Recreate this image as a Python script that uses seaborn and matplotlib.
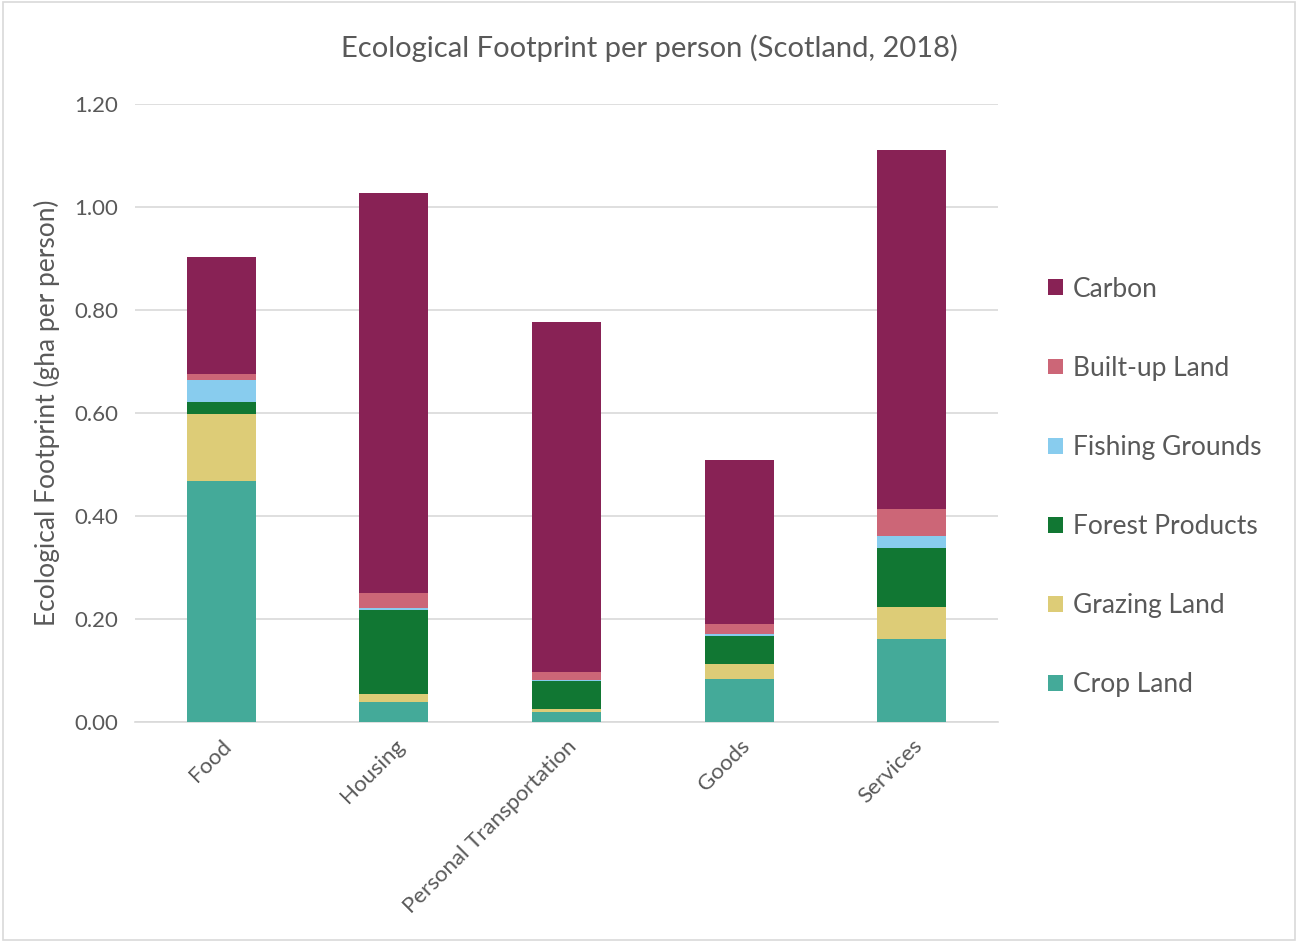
import matplotlib
matplotlib.use("Agg")
import matplotlib.pyplot as plt
from matplotlib.patches import Patch, Rectangle
import seaborn as sns
import pandas as pd
import numpy as np

categories = ["Food", "Housing", "Personal Transportation", "Goods", "Services"]
crop_land = [0.467, 0.039, 0.019, 0.083, 0.162]
grazing_land = [0.131, 0.016, 0.007, 0.029, 0.062]
forest_products = [0.024, 0.162, 0.054, 0.055, 0.113]
fishing_grounds = [0.043, 0.004, 0.002, 0.004, 0.025]
built_up_land = [0.011, 0.030, 0.016, 0.019, 0.051]
carbon = [0.227, 0.776, 0.678, 0.318, 0.697]

series_names = ["Crop Land", "Grazing Land", "Forest Products", "Fishing Grounds", "Built-up Land", "Carbon"]
series_values = [crop_land, grazing_land, forest_products, fishing_grounds, built_up_land, carbon]
colors = ["#44AA99", "#DDCC77", "#117733", "#88CCEE", "#CC6677", "#882255"]
yticks = [0.0, 0.2, 0.4, 0.6, 0.8, 1.0, 1.2]

sns.set_theme(style="white")
plt.rcParams["font.family"] = ["Lato", "DejaVu Sans"]
text_color = "#595959"

fig = plt.figure(figsize=(12.98, 9.42), dpi=100)
ax = fig.add_axes([135/1298, 1-722/942, (998-135)/1298, (722-104)/942])

df = pd.DataFrame(np.array(series_values).T, columns=series_names)
df["Category"] = categories
cum = df[series_names].cumsum(axis=1)

# draw from the top layer down so lower layers overlay
for name, col in reversed(list(zip(series_names, colors))):
    sns.barplot(x=categories, y=cum[name].values, color=col, width=0.4,
                saturation=1, ax=ax, edgecolor="none", linewidth=0, zorder=3)

ax.set_ylim(0, 1.2)
ax.set_xlim(-0.5, 4.5)
ax.set_yticks(yticks)
ax.set_yticklabels([f"{v:.2f}" for v in yticks], fontsize=16, color=text_color)
ax.yaxis.grid(True, color="#D9D9D9", linewidth=1.2, zorder=0)
ax.set_axisbelow(True)
for s in ["top", "right", "left"]:
    ax.spines[s].set_visible(False)
ax.spines["bottom"].set_color("#D9D9D9")
ax.spines["bottom"].set_linewidth(1.2)
ax.tick_params(axis="y", length=0, pad=12)
ax.tick_params(axis="x", length=0, pad=10)
ax.set_xticks(range(len(categories)))
ax.set_xticklabels(categories, rotation=45, ha="right", rotation_mode="anchor",
                   fontsize=16, color=text_color)
ax.set_ylabel("Ecological Footprint (gha per person)", fontsize=19, color=text_color, labelpad=10)
ax.set_xlabel("")
fig.suptitle("Ecological Footprint per person (Scotland, 2018)", fontsize=21,
             color=text_color, y=1-48/942, va="center")

handles = [Patch(facecolor=c, edgecolor="none", label=n) for n, c in zip(series_names, colors)]
leg = fig.legend(handles=handles[::-1], loc="center left", bbox_to_anchor=(1048/1298, 1-487/942),
                 frameon=False, fontsize=19, labelspacing=2.05, handlelength=0.55,
                 handleheight=0.55, handletextpad=0.4, borderpad=0, borderaxespad=0)
for t in leg.get_texts():
    t.set_color(text_color)

fig.patches.append(Rectangle((3/1298, 2/942), 1-6/1298, 1-4/942, transform=fig.transFigure,
                             fill=False, edgecolor="#D9D9D9", linewidth=1.2))

fig.savefig("out.png", dpi=100, facecolor="white")
